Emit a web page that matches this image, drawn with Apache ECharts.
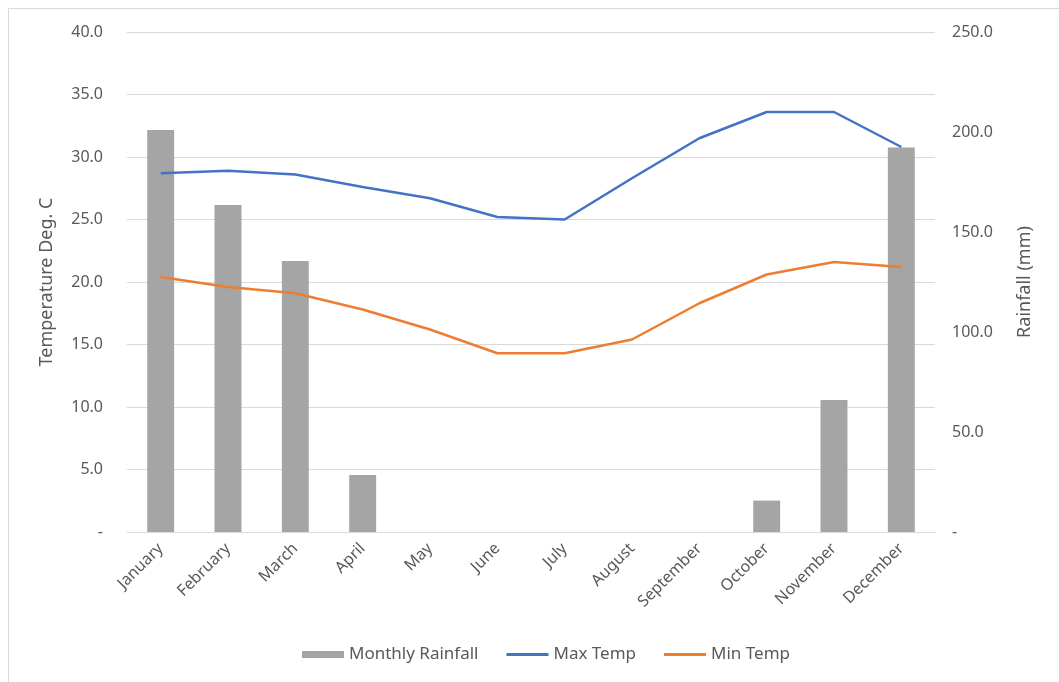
<!DOCTYPE html>
<html>
<head>
<meta charset="utf-8">
<script src="https://cdn.jsdelivr.net/npm/echarts@6/dist/echarts.min.js"></script>
<style>
  html, body { margin: 0; padding: 0; background: #fff; }
  #main { width: 1059px; height: 682px; }
</style>
</head>
<body>
<div id="main"></div>
<script>
var months = ['January', 'February', 'March', 'April', 'May', 'June', 'July', 'August', 'September', 'October', 'November', 'December'];
var rainfall = [201, 163.5, 135.5, 28.5, 0, 0, 0, 0, 0, 15.7, 66, 192.3];
var maxTemp = [28.7, 28.9, 28.6, 27.6, 26.7, 25.2, 25.0, 28.3, 31.5, 33.6, 33.6, 30.8];
var minTemp = [20.4, 19.6, 19.1, 17.8, 16.2, 14.3, 14.3, 15.4, 18.3, 20.6, 21.6, 21.2];

var font = 'Noto Sans';
var txt = '#595959';

var myChart = echarts.init(document.getElementById('main'));

// Excel-style accounting format: zero shown as a dash
function fmt(v) {
    return v === 0 ? '-' : v.toFixed(1);
}

var lineIcon = 'path://M0 0H40V3H0Z';

myChart.setOption({
    animation: false,
    textStyle: { fontFamily: font },
    graphic: [{
        type: 'rect',
        shape: { x: 8.5, y: 8.5, width: 1100, height: 700 },
        style: { fill: 'none', stroke: '#d9d9d9', lineWidth: 1 },
        silent: true
    }],
    grid: { left: 127, right: 124, top: 32, bottom: 150 },
    legend: {
        bottom: 14,
        left: 297,
        itemWidth: 42,
        itemHeight: 7,
        itemGap: 28,
        textStyle: { color: txt, fontSize: 17, fontFamily: font },
        data: [
            { name: 'Monthly Rainfall', icon: 'rect' },
            { name: 'Max Temp', icon: lineIcon },
            { name: 'Min Temp', icon: lineIcon }
        ]
    },
    xAxis: {
        type: 'category',
        data: months,
        axisLine: { lineStyle: { color: '#d9d9d9', width: 1 } },
        axisTick: { show: false },
        axisLabel: { rotate: 45, color: txt, fontSize: 16, margin: 14, interval: 0 }
    },
    yAxis: [{
        type: 'value',
        min: 0,
        max: 40,
        interval: 5,
        name: 'Temperature Deg. C',
        nameLocation: 'middle',
        nameGap: 71,
        nameTextStyle: { color: txt, fontSize: 18 },
        axisLine: { show: false },
        axisTick: { show: false },
        axisLabel: { color: txt, fontSize: 16, margin: 24, formatter: fmt },
        splitLine: { lineStyle: { color: '#d9d9d9', width: 1 } }
    }, {
        type: 'value',
        min: 0,
        max: 250,
        interval: 50,
        name: 'Rainfall (mm)',
        nameLocation: 'middle',
        nameGap: 81,
        nameRotate: 90,
        nameTextStyle: { color: txt, fontSize: 18 },
        axisLine: { show: false },
        axisTick: { show: false },
        axisLabel: { color: txt, fontSize: 16, margin: 17, formatter: fmt },
        splitLine: { show: false }
    }],
    series: [{
        name: 'Monthly Rainfall',
        type: 'bar',
        yAxisIndex: 1,
        data: rainfall,
        barWidth: '40%',
        itemStyle: { color: '#a5a5a5' }
    }, {
        name: 'Max Temp',
        type: 'line',
        data: maxTemp,
        symbol: 'none',
        lineStyle: { color: '#4472c4', width: 2.5 },
        itemStyle: { color: '#4472c4' }
    }, {
        name: 'Min Temp',
        type: 'line',
        data: minTemp,
        symbol: 'none',
        lineStyle: { color: '#ed7d31', width: 2.5 },
        itemStyle: { color: '#ed7d31' }
    }]
});
</script>
</body>
</html>
